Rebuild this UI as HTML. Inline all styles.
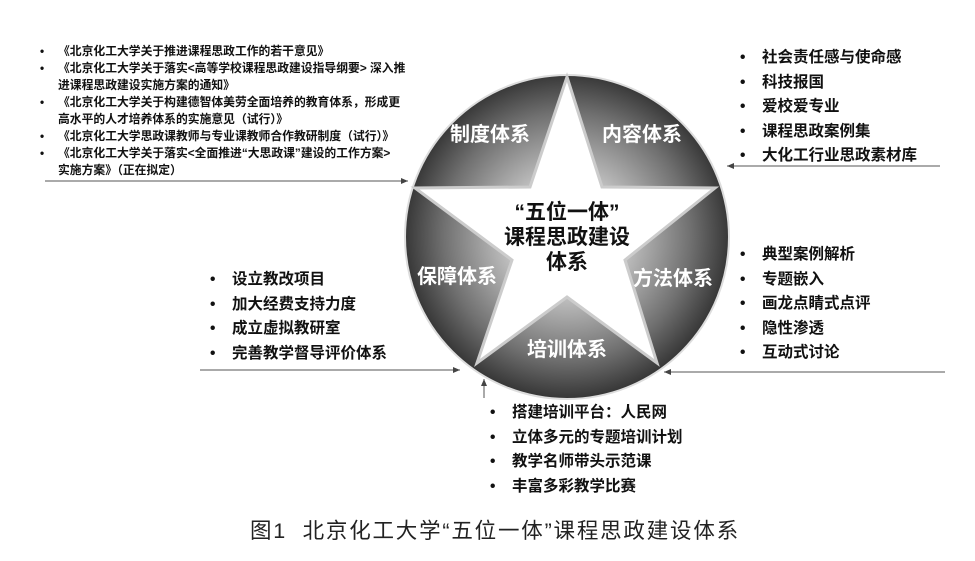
<!DOCTYPE html>
<html><head><meta charset="utf-8"><style>
body{margin:0;background:#fff;width:975px;height:561px;overflow:hidden;position:relative;font-family:"Liberation Sans","Noto Sans CJK SC",sans-serif;}
.t{position:absolute;white-space:nowrap;font-weight:bold;color:#111;}
.s{font-size:11.8px;line-height:17px;}
.m{font-size:15.5px;line-height:24.5px;}
.b{display:inline-block;width:22px;}
.s .b{width:18px;}
</style></head><body>
<svg width="975" height="561" style="position:absolute;left:0;top:0">
<defs>
<radialGradient id="g" cx="567" cy="236" r="165" gradientUnits="userSpaceOnUse">
<stop offset="0.35" stop-color="#c4c4c4"/><stop offset="0.75" stop-color="#707070"/><stop offset="1" stop-color="#333"/>
</radialGradient>
<marker id="a" markerWidth="8" markerHeight="8" refX="7" refY="4" orient="auto"><path d="M0,1 L7,4 L0,7z" fill="#444"/></marker>
</defs>
<circle cx="567" cy="237" r="162" fill="url(#g)" stroke="#ddd" stroke-width="2"/>
<polygon points="567,77 602,187 715,188 625,260 657,363 567,297 477,363 512,260 415,188 530,187" fill="#fff" stroke="#ccc" stroke-width="3"/>
<g stroke="#555" stroke-width="1" fill="none">
<line x1="45" y1="181" x2="408" y2="181" marker-end="url(#a)"/>
<line x1="940" y1="166" x2="727" y2="166" marker-end="url(#a)"/>
<line x1="200" y1="370" x2="460" y2="370" marker-end="url(#a)"/>
<line x1="945" y1="372" x2="664" y2="372" marker-end="url(#a)"/>
<line x1="484" y1="398" x2="484" y2="379" marker-end="url(#a)"/>
</g>
<g font-family="Liberation Sans,Noto Sans CJK SC,sans-serif" font-weight="bold" font-size="20" fill="#fff" text-anchor="middle">
<text x="490" y="141">制度体系</text>
<text x="642" y="141">内容体系</text>
<text x="457" y="283">保障体系</text>
<text x="673" y="285">方法体系</text>
<text x="567" y="356">培训体系</text>
</g>
<g font-family="Liberation Sans,Noto Sans CJK SC,sans-serif" font-weight="bold" font-size="21" fill="#111" text-anchor="middle">
<text x="567" y="219">“五位一体”</text>
<text x="567" y="244">课程思政建设</text>
<text x="567" y="269">体系</text>
</g>
</svg>
<div class="t s" style="left:40px;top:43px">
<div><span class="b">•</span>《北京化工大学关于推进课程思政工作的若干意见》</div>
<div><span class="b">•</span>《北京化工大学关于落实&lt;高等学校课程思政建设指导纲要&gt; 深入推</div>
<div><span class="b"></span>进课程思政建设实施方案的通知》</div>
<div><span class="b">•</span>《北京化工大学关于构建德智体美劳全面培养的教育体系，形成更</div>
<div><span class="b"></span>高水平的人才培养体系的实施意见（试行）》</div>
<div><span class="b">•</span>《北京化工大学思政课教师与专业课教师合作教研制度（试行）》</div>
<div><span class="b">•</span>《北京化工大学关于落实&lt;全面推进“大思政课”建设的工作方案&gt;</div>
<div><span class="b"></span>实施方案》（正在拟定）</div>
</div>
<div class="t m" style="left:740px;top:46px">
<div><span class="b">•</span>社会责任感与使命感</div>
<div><span class="b">•</span>科技报国</div>
<div><span class="b">•</span>爱校爱专业</div>
<div><span class="b">•</span>课程思政案例集</div>
<div><span class="b">•</span>大化工行业思政素材库</div>
</div>
<div class="t m" style="left:210px;top:268px">
<div><span class="b">•</span>设立教改项目</div>
<div><span class="b">•</span>加大经费支持力度</div>
<div><span class="b">•</span>成立虚拟教研室</div>
<div><span class="b">•</span>完善教学督导评价体系</div>
</div>
<div class="t m" style="left:740px;top:243px">
<div><span class="b">•</span>典型案例解析</div>
<div><span class="b">•</span>专题嵌入</div>
<div><span class="b">•</span>画龙点睛式点评</div>
<div><span class="b">•</span>隐性渗透</div>
<div><span class="b">•</span>互动式讨论</div>
</div>
<div class="t m" style="left:490px;top:401px">
<div><span class="b">•</span>搭建培训平台：人民网</div>
<div><span class="b">•</span>立体多元的专题培训计划</div>
<div><span class="b">•</span>教学名师带头示范课</div>
<div><span class="b">•</span>丰富多彩教学比赛</div>
</div>
<div style="position:absolute;left:250px;top:514px;font-size:21.5px;letter-spacing:1.8px;color:#222;white-space:nowrap">图1&nbsp; 北京化工大学“五位一体”课程思政建设体系</div>
</body></html>
